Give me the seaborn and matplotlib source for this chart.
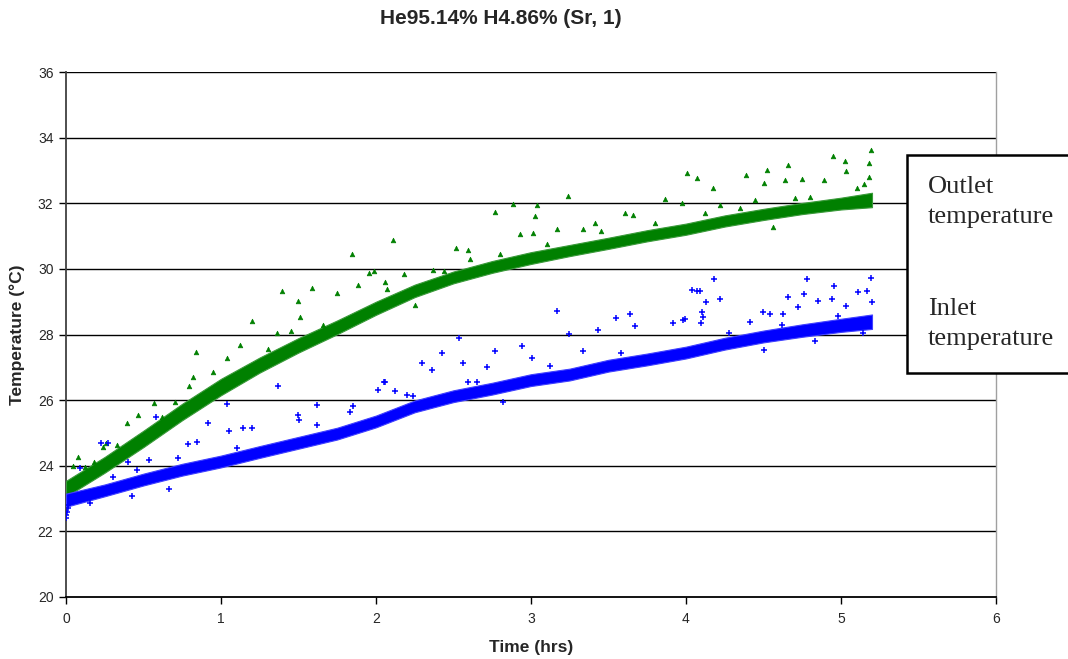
import matplotlib
matplotlib.use("Agg")
import matplotlib.pyplot as plt
from matplotlib.patches import Rectangle
import numpy as np
import pandas as pd
import seaborn as sns

# Running trend of each logged temperature (hours, degC)
trend_time = [0.00, 0.25, 0.50, 0.75, 1.00, 1.25, 1.50, 1.75, 2.00, 2.25, 2.50,
              2.75, 3.00, 3.25, 3.50, 3.75, 4.00, 4.25, 4.50, 4.75, 5.00, 5.20]
outlet_trend = [23.30, 24.03, 24.82, 25.64, 26.40, 27.07, 27.67, 28.22, 28.80, 29.33, 29.74,
                30.06, 30.33, 30.56, 30.78, 31.01, 31.21, 31.46, 31.66, 31.84, 31.99, 32.10]
inlet_trend = [22.95, 23.25, 23.58, 23.88, 24.13, 24.42, 24.70, 24.98, 25.35, 25.81, 26.12,
               26.35, 26.61, 26.78, 27.05, 27.24, 27.45, 27.72, 27.94, 28.12, 28.28, 28.39]
# Half-width of the dense scatter around each trend (degC)
outlet_spread = [0.24, 0.24, 0.25, 0.25, 0.25, 0.23, 0.22, 0.21, 0.20, 0.19, 0.18,
                 0.18, 0.18, 0.17, 0.17, 0.17, 0.17, 0.17, 0.17, 0.17, 0.18, 0.22]
inlet_spread = [0.20, 0.18, 0.18, 0.18, 0.18, 0.18, 0.18, 0.18, 0.18, 0.18, 0.18,
                0.18, 0.18, 0.18, 0.18, 0.18, 0.18, 0.18, 0.18, 0.19, 0.20, 0.22]

# Individual readings that stand apart from the trend
outlet_t = [0.045, 0.08, 0.237, 0.26, 0.391, 0.467, 0.568, 0.796, 0.821, 0.839, 1.037, 1.123,
            1.198, 1.363, 1.396, 1.495, 1.51, 1.585, 1.746, 1.843, 1.886, 1.957, 1.99, 2.058,
            2.069, 2.112, 2.252, 2.37, 2.516, 2.596, 2.606, 2.768, 2.886, 2.929, 3.015, 3.026,
            3.037, 3.166, 3.241, 3.337, 3.413, 3.606, 3.66, 3.865, 3.972, 4.004, 4.069, 4.176,
            4.219, 4.387, 4.445, 4.503, 4.521, 4.563, 4.639, 4.656, 4.746, 4.892, 4.951, 5.026,
            5.032, 5.183, 5.183, 5.191,
            0.12, 0.18, 0.33, 0.62, 0.70, 0.95, 1.30, 1.45, 1.66, 2.18, 2.44, 2.80, 3.10,
            3.45, 3.80, 4.12, 4.35, 4.70, 4.80, 5.10, 5.15]
outlet_v = [24.00, 24.27, 24.58, 24.70, 25.31, 25.54, 25.92, 26.43, 26.71, 27.47, 27.27, 27.68,
            28.41, 28.05, 29.32, 29.02, 28.54, 29.41, 29.27, 30.44, 29.50, 29.88, 29.94, 29.60,
            29.40, 30.88, 28.90, 29.96, 30.64, 30.57, 30.29, 31.74, 31.97, 31.05, 31.10, 31.62,
            31.95, 31.23, 32.23, 31.23, 31.39, 31.69, 31.64, 32.12, 32.00, 32.93, 32.76, 32.45,
            31.95, 32.86, 32.10, 32.62, 33.01, 31.28, 32.70, 33.16, 32.73, 32.70, 33.44, 33.29,
            32.98, 33.23, 32.81, 33.62,
            23.95, 24.10, 24.62, 25.50, 25.95, 26.85, 27.55, 28.10, 28.30, 29.85, 29.95,
            30.45, 30.75, 31.15, 31.40, 31.70, 31.85, 32.15, 32.20, 32.45, 32.60]

inlet_t = [0.000, 0.003, 0.006, 0.010, 0.013, 0.09, 0.155, 0.226, 0.269, 0.402, 0.424, 0.46,
           0.538, 0.581, 0.667, 0.789, 0.843, 0.914, 1.037, 1.054, 1.144, 1.199, 1.368, 1.50,
           1.499, 1.617, 1.832, 1.849, 2.011, 2.052, 2.058, 2.123, 2.241, 2.295, 2.359, 2.428,
           2.535, 2.563, 2.596, 2.714, 2.768, 2.821, 2.94, 3.004, 3.166, 3.247, 3.337, 3.434,
           3.548, 3.639, 3.671, 3.918, 3.98, 3.994, 4.037, 4.073, 4.095, 4.09, 4.101, 4.11,
           4.13, 4.183, 4.219, 4.413, 4.499, 4.505, 4.54, 4.624, 4.656, 4.725, 4.761, 4.783,
           4.832, 4.85, 4.94, 4.957, 5.032, 5.112, 5.144, 5.166, 5.191, 5.198,
           0.30, 0.72, 1.10, 1.62, 2.20, 2.65, 3.12, 3.58, 4.28, 4.62, 4.98]
inlet_v = [22.40, 22.50, 22.60, 22.70, 22.80, 23.94, 22.85, 24.70, 24.70, 24.12, 23.08, 23.87,
           24.17, 25.49, 23.28, 24.66, 24.73, 25.29, 25.88, 25.05, 25.14, 25.14, 26.44, 25.40,
           25.54, 25.85, 25.64, 25.83, 26.30, 26.55, 26.54, 26.27, 26.12, 27.14, 26.91, 27.44,
           27.88, 27.14, 26.55, 27.00, 27.49, 25.93, 27.66, 27.27, 28.71, 28.01, 27.50, 28.13,
           28.51, 28.61, 28.26, 28.36, 28.45, 28.46, 29.37, 29.33, 28.36, 29.33, 28.69, 28.52,
           29.00, 29.68, 29.07, 28.39, 28.69, 27.52, 28.62, 28.61, 29.15, 28.85, 29.23, 29.68,
           27.81, 29.03, 29.07, 29.48, 28.87, 29.30, 28.05, 29.33, 29.71, 29.00,
           23.65, 24.25, 24.55, 25.25, 26.15, 26.55, 27.05, 27.45, 28.05, 28.30, 28.55]

title = "He95.14% H4.86% (Sr, 1)"
x_ticks = [0, 1, 2, 3, 4, 5, 6]
y_ticks = [20, 22, 24, 26, 28, 30, 32, 34, 36]

GREEN = "#008000"
BLUE = "#0000FF"
SERIF = ["Liberation Serif", "DejaVu Serif"]

sns.set_theme(style="white")
plt.rcParams["font.family"] = ["Liberation Sans", "DejaVu Sans"]

fig = plt.figure(figsize=(10.68, 6.59), dpi=100)
ax = fig.add_axes([66 / 1068, 62 / 659, 930 / 1068, 525 / 659])

trend = pd.DataFrame({"t": trend_time, "outlet": outlet_trend, "inlet": inlet_trend,
                      "os": outlet_spread, "is": inlet_spread})

# Dense logged readings appear as a solid band around the trend
ax.fill_between(trend["t"], trend["outlet"] - trend["os"], trend["outlet"] + trend["os"],
                color=GREEN, linewidth=0.8, edgecolor="#3a9a3a", zorder=3)
ax.fill_between(trend["t"], trend["inlet"] - trend["is"], trend["inlet"] + trend["is"],
                color=BLUE, linewidth=0.8, edgecolor="#4040ff", zorder=3)

out_df = pd.DataFrame({"t": outlet_t, "v": outlet_v})
in_df = pd.DataFrame({"t": inlet_t, "v": inlet_v})
sns.scatterplot(data=out_df, x="t", y="v", ax=ax, marker="^", s=11, color=GREEN,
                edgecolor=GREEN, linewidth=0.5, zorder=4)
sns.scatterplot(data=in_df, x="t", y="v", ax=ax, marker="+", s=16, color=BLUE,
                linewidth=1.1, zorder=4)

ax.set_xlim(0, 6)
ax.set_ylim(20, 36)
ax.set_xticks(x_ticks)
ax.set_yticks(y_ticks)
ax.set_xticklabels([str(v) for v in x_ticks], fontsize=10)
ax.set_yticklabels([str(v) for v in y_ticks], fontsize=10)
ax.tick_params(axis="both", direction="out", length=5, width=1, color="black",
               pad=4, left=True, bottom=True)
ax.tick_params(axis="x", pad=6)

for v in y_ticks[1:]:
    ax.axhline(v, color="black", linewidth=1, zorder=1)

ax.spines["left"].set_color("#404040")
ax.spines["left"].set_linewidth(1.3)
ax.spines["bottom"].set_color("black")
ax.spines["bottom"].set_linewidth(1.3)
ax.spines["right"].set_color("#a0a0a0")
ax.spines["right"].set_linewidth(1)
ax.spines["top"].set_visible(False)

ax.set_xlabel("Time (hrs)", fontsize=12.5, fontweight="bold", labelpad=10)
ax.set_ylabel("Temperature (°C)", fontsize=12.5, fontweight="bold", labelpad=9)

fig.text(501 / 1068, 1 - 18 / 659, title, ha="center", va="center",
         fontsize=15, fontweight="bold")

# Boxed labels naming the two series
fig.patches.append(Rectangle((907 / 1068, (659 - 373) / 659), 0.3, 218 / 659,
                             transform=fig.transFigure, facecolor="white",
                             edgecolor="black", linewidth=1.8, zorder=10))
fig.text(928 / 1068, 1 - 176 / 659, "Outlet\ntemperature", ha="left", va="top",
         fontsize=19, family=SERIF, linespacing=1.5, zorder=11)
fig.text(928 / 1068, 1 - 298 / 659, "Inlet\ntemperature", ha="left", va="top",
         fontsize=19, family=SERIF, linespacing=1.5, zorder=11)

fig.savefig("out.png", dpi=100, facecolor="white")
